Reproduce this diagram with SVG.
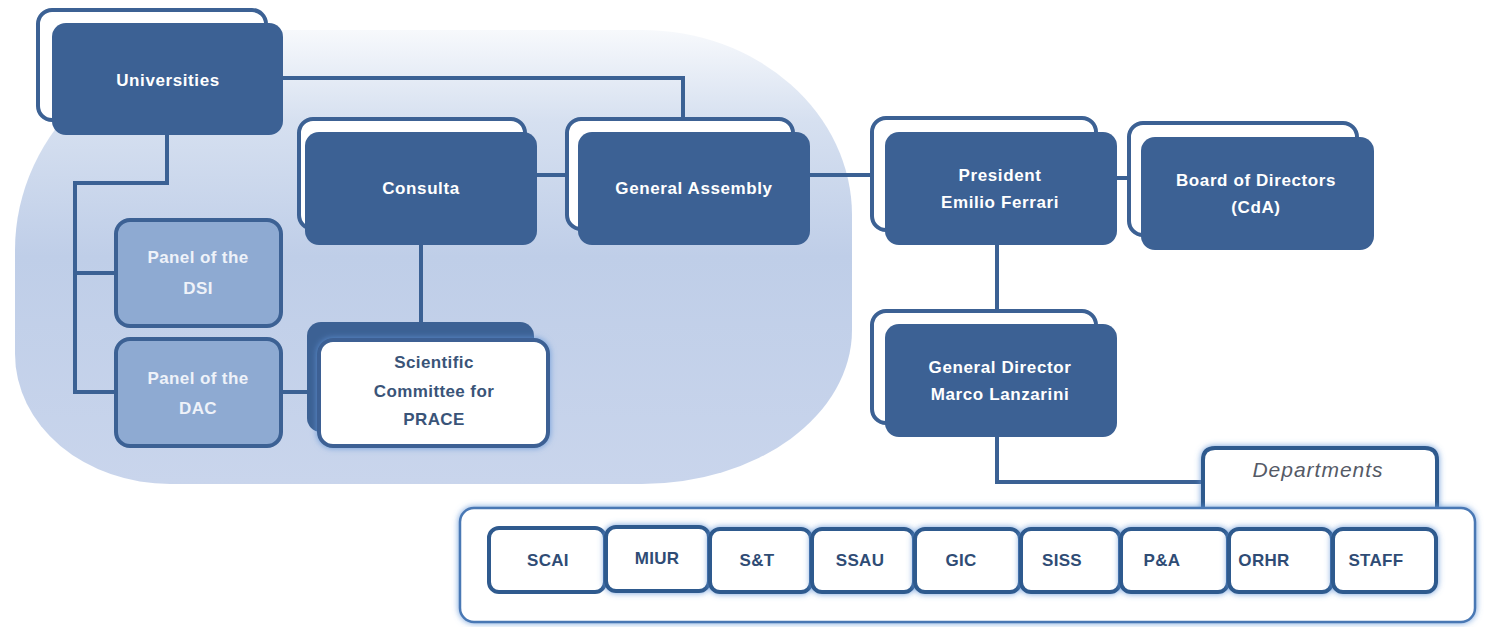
<svg xmlns="http://www.w3.org/2000/svg" width="1488" height="627" viewBox="0 0 1488 627">
<defs>
<linearGradient id="bg" x1="0" y1="0" x2="0" y2="1">
<stop offset="0" stop-color="#f7f9fc"/>
<stop offset="0.2" stop-color="#d6e0f0"/>
<stop offset="0.5" stop-color="#bfcee8"/>
<stop offset="1" stop-color="#c9d5ec"/>
</linearGradient>
<filter id="glow" x="-10%" y="-20%" width="120%" height="140%">
<feGaussianBlur in="SourceAlpha" stdDeviation="3" result="b"/>
<feFlood flood-color="#5f93d6" flood-opacity="0.9"/>
<feComposite in2="b" operator="in" result="g"/>
<feMerge><feMergeNode in="g"/><feMergeNode in="SourceGraphic"/></feMerge>
</filter>
</defs>
<style>
.back{fill:#ffffff;stroke:#3c6194;stroke-width:4}
.front{fill:#3c6194}
.panel{fill:#8eaad2;stroke:#3c6194;stroke-width:4}
.t{font-family:"Liberation Sans",Arial,sans-serif;font-weight:bold;font-size:17px;letter-spacing:0.6px;fill:#ffffff;text-anchor:middle}
.tp{font-family:"Liberation Sans",Arial,sans-serif;font-weight:bold;font-size:17px;letter-spacing:0.4px;fill:#eef2f9;text-anchor:middle}
.td{font-family:"Liberation Sans",Arial,sans-serif;font-weight:bold;font-size:17px;letter-spacing:0.4px;fill:#3a5478;text-anchor:middle}
.dept{fill:#ffffff;stroke:#2f5a8e;stroke-width:4}
.dt{font-family:"Liberation Sans",Arial,sans-serif;font-weight:bold;font-size:17px;letter-spacing:0.3px;fill:#2f4c75;text-anchor:middle}
.conn{fill:none;stroke:#3b6194;stroke-width:4}
</style>
<rect width="1488" height="627" fill="#ffffff"/>
<path d="M260,30 H642 A210,185 0 0 1 852,215 V330 A210,154 0 0 1 642,484 H170 A155,130 0 0 1 15,354 V250 A245,220 0 0 1 260,30 Z" fill="url(#bg)"/>

<g id="connectors">
<path class="conn" d="M282,78 H683 V120"/>
<path class="conn" d="M167,135 V183 H75 V392 H116"/>
<path class="conn" d="M75,273 H116"/>
<path class="conn" d="M281,392 H308"/>
<path class="conn" d="M421,245 V322"/>
<path class="conn" d="M537,175 H568"/>
<path class="conn" d="M809,175 H873"/>
<path class="conn" d="M1117,178 H1130"/>
<path class="conn" d="M997,245 V311"/>
<path class="conn" d="M997,437 V482 H1203"/>
</g>

<g id="universities">
<rect class="back" x="38" y="10" width="228" height="110" rx="14"/>
<rect class="front" x="52" y="23" width="231" height="112" rx="14"/>
<text class="t" x="168" y="86">Universities</text>
</g>
<g id="consulta">
<rect class="back" x="299" y="119" width="226" height="110" rx="14"/>
<rect class="front" x="305" y="132" width="232" height="113" rx="14"/>
<text class="t" x="421" y="194">Consulta</text>
</g>
<g id="general-assembly">
<rect class="back" x="567" y="119" width="226" height="110" rx="14"/>
<rect class="front" x="578" y="132" width="232" height="113" rx="14"/>
<text class="t" x="694" y="194">General Assembly</text>
</g>
<g id="president">
<rect class="back" x="872" y="118" width="224" height="112" rx="14"/>
<rect class="front" x="885" y="132" width="232" height="113" rx="14"/>
<text class="t" x="1000" y="181">President</text>
<text class="t" x="1000" y="208">Emilio Ferrari</text>
</g>
<g id="board">
<rect class="back" x="1129" y="123" width="228" height="112" rx="14"/>
<rect class="front" x="1141" y="137" width="233" height="113" rx="14"/>
<text class="t" x="1256" y="186">Board of Directors</text>
<text class="t" x="1256" y="213">(CdA)</text>
</g>
<g id="panel-dsi">
<rect class="panel" x="116" y="220" width="165" height="106" rx="14"/>
<text class="tp" x="198" y="263">Panel of the</text>
<text class="tp" x="198" y="294">DSI</text>
</g>
<g id="panel-dac">
<rect class="panel" x="116" y="339" width="165" height="107" rx="14"/>
<text class="tp" x="198" y="384">Panel of the</text>
<text class="tp" x="198" y="414">DAC</text>
</g>
<g id="scientific-committee">
<rect x="307" y="322" width="227" height="110" rx="14" fill="#3c6194"/>
<rect x="319" y="340" width="229" height="106" rx="14" fill="#ffffff" stroke="#3c6194" stroke-width="4" filter="url(#glow)"/>
<text class="td" x="434" y="368">Scientific</text>
<text class="td" x="434" y="397">Committee for</text>
<text class="td" x="434" y="425">PRACE</text>
</g>
<g id="general-director">
<rect class="back" x="872" y="311" width="224" height="112" rx="14"/>
<rect class="front" x="885" y="324" width="232" height="113" rx="14"/>
<text class="t" x="1000" y="373">General Director</text>
<text class="t" x="1000" y="400">Marco Lanzarini</text>
</g>
<g id="departments-tab">
<path d="M1203,510 V460 Q1203,448 1215,448 H1425 Q1437,448 1437,460 V510" fill="#ffffff" stroke="#2f5a8e" stroke-width="4" filter="url(#glow)"/>
<text x="1318" y="477" font-family="'Liberation Sans',Arial,sans-serif" font-style="italic" font-size="21" letter-spacing="1" fill="#555a66" text-anchor="middle">Departments</text>
</g>
<g id="departments">
<rect x="460" y="508" width="1015" height="114" rx="14" fill="#ffffff" stroke="#4a78b4" stroke-width="2.5" filter="url(#glow)"/>
<g id="dept-scai"><rect class="dept" x="489" y="528" width="116" height="64" rx="10" stroke="#27507f" stroke-width="5"/><text class="dt" x="548" y="566">SCAI</text></g>
<g id="dept-miur"><rect class="dept" x="606" y="527" width="103" height="64" rx="10" stroke="#27507f" filter="url(#glow)"/><text class="dt" x="657" y="564">MIUR</text></g>
<g id="dept-st"><rect class="dept" x="710" y="529" width="101" height="63" rx="10" filter="url(#glow)"/><text class="dt" x="757" y="566">S&amp;T</text></g>
<g id="dept-ssau"><rect class="dept" x="812" y="529" width="102" height="63" rx="10" filter="url(#glow)"/><text class="dt" x="860" y="566">SSAU</text></g>
<g id="dept-gic"><rect class="dept" x="915" y="529" width="105" height="63" rx="10" filter="url(#glow)"/><text class="dt" x="961" y="566">GIC</text></g>
<g id="dept-siss"><rect class="dept" x="1021" y="529" width="99" height="63" rx="10" filter="url(#glow)"/><text class="dt" x="1062" y="566">SISS</text></g>
<g id="dept-pa"><rect class="dept" x="1121" y="529" width="107" height="63" rx="10" filter="url(#glow)"/><text class="dt" x="1162" y="566">P&amp;A</text></g>
<g id="dept-orhr"><rect class="dept" x="1229" y="529" width="103" height="63" rx="10" filter="url(#glow)"/><text class="dt" x="1264" y="566">ORHR</text></g>
<g id="dept-staff"><rect class="dept" x="1333" y="529" width="103" height="63" rx="10" filter="url(#glow)"/><text class="dt" x="1376" y="566">STAFF</text></g>
</g>
</svg>
